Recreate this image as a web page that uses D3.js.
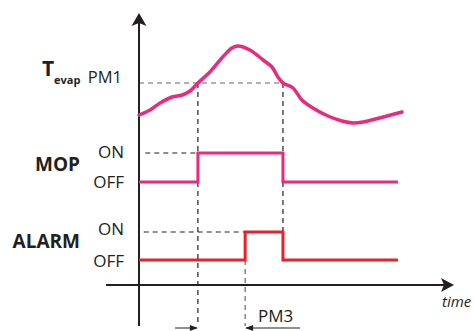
<!DOCTYPE html>
<html><head><meta charset="utf-8">
<script src="https://cdn.jsdelivr.net/npm/d3@7"></script>
<style>
html,body{margin:0;padding:0;background:#fff;}
svg{display:block;}
text{font-family:"Open Sans",sans-serif;fill:#231f20;}
</style></head>
<body>
<svg id="c" width="474" height="331"></svg>
<script>
// ---- data ----
const tempTimes  = [0, 3.5, 6.7, 10.5, 13.7, 16.2, 18.7, 22.5, 26.3, 29.5, 31.4, 35.2, 39.4, 42.2, 44.1, 45.7, 48.9, 51.7, 55.2, 60, 64.4, 67.9, 71.1, 78.7, 83.5];
const tempValues = [2.0, 2.5, 3.2, 3.8, 4.0, 4.4, 5.2, 6.3, 7.7, 8.7, 8.9, 8.5, 7.5, 6.8, 5.8, 5.2, 4.7, 3.5, 2.7, 1.9, 1.4, 1.2, 1.3, 1.9, 2.3];
const pm1 = 5.2;
const mopTimes   = [0, 18.7, 45.7, 82.2];
const mopStates  = [0, 1, 0, 0];
const alarmTimes = [0, 33.7, 45.7, 82.2];
const alarmStates= [0, 1, 0, 0];
const stateLabels = ["OFF", "ON"];
const signalNames = ["MOP", "ALARM"];

// ---- scales ----
const svg = d3.select("#c");
const x = d3.scaleLinear().domain([0, 100]).range([139, 454]);
const yT = d3.scaleLinear().domain([0, 10]).range([135, 35]);
const yMop = d3.scaleLinear().domain([0, 1]).range([182, 153]);
const yAlarm = d3.scaleLinear().domain([0, 1]).range([260, 232]);

const pink = "#ec2a7b", red = "#e8202a", ink = "#231f20";
const yBottom = 326, yAxisH = 285;

// ---- dashed guides ----
const tOn = mopTimes[1], tOff = mopTimes[2], tAl = alarmTimes[1];
const dl = (x1,y1,x2,y2,c) => svg.append("line").attr("x1",x1).attr("y1",y1).attr("x2",x2).attr("y2",y2)
  .attr("stroke",c||ink).attr("stroke-width",1.2).attr("stroke-dasharray","5,4");
dl(x(0), yT(pm1), x(tOff), yT(pm1), "#666");
dl(x(tOn), yT(pm1), x(tOn), yBottom);
dl(x(tOff), yT(pm1), x(tOff), yAlarm(1));
dl(x(tAl), yAlarm(0), x(tAl), yBottom, "#666");
dl(x(2), yMop(1), x(tOn), yMop(1));
dl(x(1.5), yAlarm(1), x(tAl), yAlarm(1));

// ---- axes ----
svg.append("line").attr("x1",x(0)).attr("y1",yBottom).attr("x2",x(0)).attr("y2",20)
  .attr("stroke",ink).attr("stroke-width",2);
svg.append("line").attr("x1",106).attr("y1",yAxisH).attr("x2",446).attr("y2",yAxisH)
  .attr("stroke",ink).attr("stroke-width",2);
const ax = x(0);
svg.append("path").attr("d",`M${ax},13 L${ax+7.5},26 L${ax},23 L${ax-7.5},26 Z`).attr("fill",ink);
svg.append("path").attr("d",`M454,${yAxisH} L441,${yAxisH-7} L444,${yAxisH} L441,${yAxisH+7} Z`).attr("fill",ink);

// ---- temperature curve ----
const tData = tempTimes.map((t,i)=>({t, v:tempValues[i]}));
svg.append("path").datum(tData)
  .attr("d", d3.line().x(d=>x(d.t)).y(d=>yT(d.v)).curve(d3.curveCatmullRom.alpha(0.5)))
  .attr("fill","none").attr("stroke",pink).attr("stroke-width",3.5).attr("stroke-linecap","round");

// ---- step signals ----
const step = (times, states, ys) => d3.line().x((d,i)=>x(times[i])).y(d=>ys(d)).curve(d3.curveStepAfter)(states);
svg.append("path").attr("d", step(mopTimes, mopStates, yMop))
  .attr("fill","none").attr("stroke",pink).attr("stroke-width",3);
svg.append("path").attr("d", step(alarmTimes, alarmStates, yAlarm))
  .attr("fill","none").attr("stroke",red).attr("stroke-width",3);

// ---- labels ----
svg.append("text").attr("x",42).attr("y",76).attr("font-weight","bold").attr("font-size",21).text("T");
svg.append("text").attr("x",54).attr("y",84).attr("font-weight","bold").attr("font-size",11).text("evap");
svg.append("text").attr("x",122).attr("y",83).attr("text-anchor","end").attr("font-size",16.5).text("PM1");

svg.append("text").attr("x",80).attr("y",171).attr("text-anchor","end").attr("font-weight","bold").attr("font-size",19).text(signalNames[0]);
svg.append("text").attr("x",80).attr("y",248).attr("text-anchor","end").attr("font-weight","bold").attr("font-size",19).text(signalNames[1]);
const st = (y, s) => svg.append("text").attr("x",124).attr("y",y).attr("text-anchor","end").attr("font-size",17).text(s);
st(yMop(1)+5, stateLabels[1]);
st(yMop(0)+6, stateLabels[0]);
st(yAlarm(1)+3, stateLabels[1]);
st(yAlarm(0)+6.5, stateLabels[0]);

svg.append("text").attr("x",442).attr("y",307).attr("font-style","italic").attr("font-size",15).text("time");

// ---- PM3 delay markers ----
const yPm = 328;
svg.append("line").attr("x1",175).attr("y1",yPm).attr("x2",x(tOn)-1).attr("y2",yPm).attr("stroke",ink).attr("stroke-width",1);
svg.append("path").attr("d",`M${x(tOn)},${yPm} L${x(tOn)-8},${yPm-3} L${x(tOn)-8},${yPm+3} Z`).attr("fill",ink);
svg.append("line").attr("x1",x(tAl)+1).attr("y1",yPm).attr("x2",300).attr("y2",yPm).attr("stroke",ink).attr("stroke-width",1);
svg.append("path").attr("d",`M${x(tAl)},${yPm} L${x(tAl)+8},${yPm-3} L${x(tAl)+8},${yPm+3} Z`).attr("fill",ink);
svg.append("text").attr("x",258).attr("y",322).attr("font-size",17).text("PM3");
</script>
</body></html>
